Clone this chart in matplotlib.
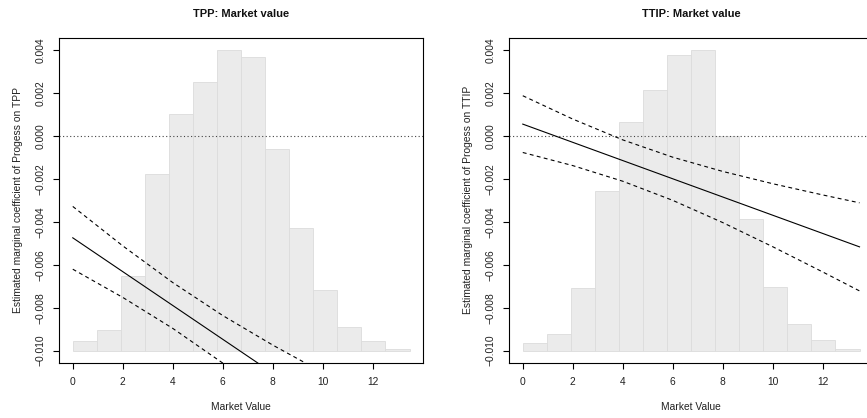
import numpy as np
import matplotlib
matplotlib.use("Agg")
import matplotlib.pyplot as plt

plt.rcParams['font.family'] = ['Liberation Sans', 'DejaVu Sans']

# ---------------- data ----------------
titles = ["TPP: Market value", "TTIP: Market value"]
ylabels = ["Estimated marginal coefficient of Progess on TPP",
           "Estimated marginal coefficient of Progess on TTIP"]
xlabel = "Market Value"

# histogram of the moderator (relative bar heights), 14 bins from 0 to 13.47
bin_edges = np.linspace(0.0, 13.47, 15)
hist_tpp = [0.45, 0.95, 3.47, 8.23, 11.0, 12.5, 14.0, 13.67, 9.36, 5.69, 2.80, 1.11, 0.43, 0.06]
hist_ttip = [0.34, 0.77, 2.91, 7.41, 10.66, 12.14, 13.74, 14.0, 10.01, 6.13, 2.96, 1.22, 0.50, 0.06]

# marginal effect lines
x_tpp = [0, 2, 4, 6, 8, 10]
est_tpp = [-0.00475, -0.006324, -0.007898, -0.009472, -0.011046, -0.01262]
upper_tpp = [-0.00329, -0.005125, -0.006832, -0.008366, -0.009741, -0.011017]
lower_tpp = [-0.00621, -0.007523, -0.008964, -0.010578, -0.012351, -0.014223]

x_ttip = [0, 2, 4, 6, 8, 10, 12, 13.47]
est_ttip = [0.00054, -0.000308, -0.001156, -0.002004, -0.002852, -0.00370, -0.004548, -0.005171]
upper_ttip = [0.00186, 0.000774, -0.000194, -0.001000, -0.001662, -0.002234, -0.002756, -0.003122]
lower_ttip = [-0.00078, -0.00139, -0.002118, -0.003008, -0.004042, -0.005166, -0.006340, -0.00722]

xticks = [0, 2, 4, 6, 8, 10, 12]
yticks = [-0.010, -0.008, -0.006, -0.004, -0.002, 0.000, 0.002, 0.004]
ytick_labels = ["\u22120.010", "\u22120.008", "\u22120.006", "\u22120.004",
                "\u22120.002", "0.000", "0.002", "0.004"]

hist_base = -0.010
hist_top = 0.004

# ---------------- figure ----------------
W, H = 867, 418
fig = plt.figure(figsize=(W / 100, H / 100), dpi=100)

def px_axes(left, top, right, bottom):
    return fig.add_axes([left / W, 1 - bottom / H, (right - left) / W, (bottom - top) / H])

axes = [px_axes(59.3, 37.7, 423.0, 362.7), px_axes(509.3, 37.7, 873.0, 362.7)]

panels = [
    (hist_tpp, x_tpp, est_tpp, upper_tpp, lower_tpp),
    (hist_ttip, x_ttip, est_ttip, upper_ttip, lower_ttip),
]

xr = bin_edges[-1] - bin_edges[0]
yr = hist_top - hist_base

for i, (ax, (hist, xs, est, up, lo)) in enumerate(zip(axes, panels)):
    h = np.array(hist)
    heights = h / h.max() * (hist_top - hist_base)
    widths = np.diff(bin_edges)
    ax.bar(bin_edges[:-1], heights, width=widths, bottom=hist_base, align='edge',
           color='#ebebeb', edgecolor='#dcdcdc', linewidth=0.6, zorder=1)
    ax.axhline(0, color='#444444', linestyle=(0, (1, 2.2)), linewidth=0.8, zorder=2)
    ax.plot(xs, est, color='black', linewidth=0.8, zorder=3)
    ax.plot(xs, up, color='black', linewidth=0.8, linestyle=(0, (3.5, 3)), zorder=3)
    ax.plot(xs, lo, color='black', linewidth=0.8, linestyle=(0, (3.5, 3)), zorder=3)

    ax.set_xlim(bin_edges[0] - 0.04 * xr, bin_edges[-1] + 0.04 * xr)
    ax.set_ylim(hist_base - 0.04 * yr, hist_top + 0.04 * yr)
    ax.set_xticks(xticks)
    ax.set_xticklabels([str(t) for t in xticks])
    ax.set_yticks(yticks)
    ax.set_yticklabels(ytick_labels, rotation=90, va='center')
    ax.tick_params(axis='both', direction='out', length=4.5, width=0.8,
                   labelsize=7.4, color='black', labelcolor='#222222')
    ax.tick_params(axis='x', pad=6.0)
    ax.tick_params(axis='y', pad=5.2)
    for s in ax.spines.values():
        s.set_linewidth(0.8)
        s.set_color('black')
    ax.set_title(titles[i], fontsize=8, fontweight='bold', pad=15, color='#111111')
    ax.set_xlabel(xlabel, fontsize=7.4, labelpad=10.5, color='#222222')
    ax.set_ylabel(ylabels[i], fontsize=7.4, labelpad=9, color='#222222')

fig.savefig("out.png", dpi=100)
